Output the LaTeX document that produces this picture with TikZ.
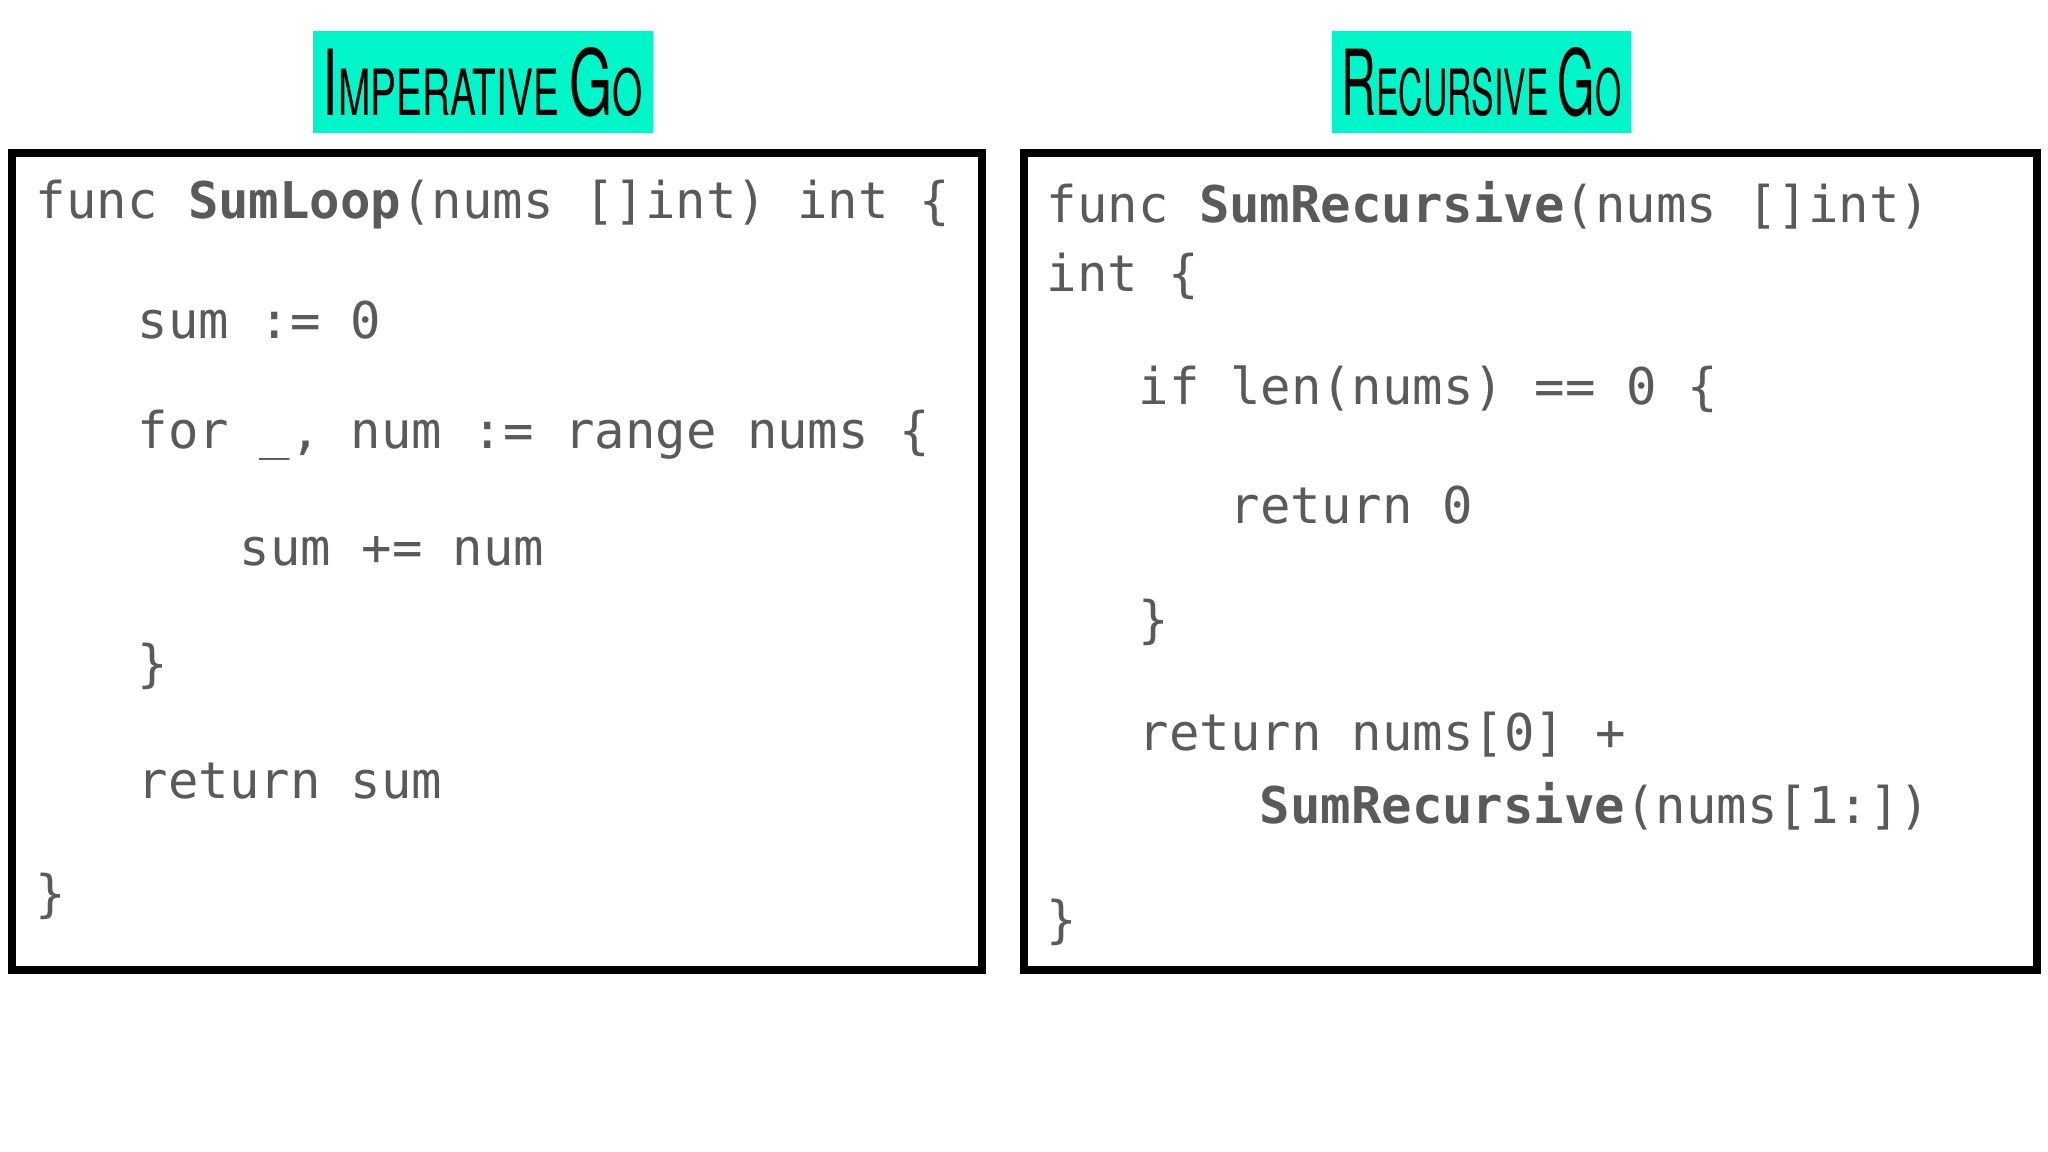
\documentclass[tikz,border=0pt]{standalone}
\usepackage{fontspec}
\setmonofont{DejaVu Sans Mono}
\setsansfont{TeX Gyre Heros}
\definecolor{codegray}{HTML}{5A5A5A}
\definecolor{aqua}{HTML}{00F5C8}
\tikzset{code/.style={anchor=west,inner sep=0pt,font=\ttfamily\fontsize{14.4}{16}\selectfont,text=codegray},
frame/.style={draw=black,line width=2.2pt},
hl/.style={fill=aqua,inner sep=0pt}}
\begin{document}
\begin{tikzpicture}[x=1cm,y=1cm]
\useasboundingbox (0,0) rectangle (20.48,11.52);
\fill[white] (0,0) rectangle (20.48,11.52);
% titles
\fill[aqua] (3.13,10.19) rectangle (6.53,11.21);
\node[inner sep=0pt] (t1) at (4.83,10.70) {\resizebox{3.2cm}{0.68cm}{\sffamily I\scriptsize MPERATIVE \normalsize G\scriptsize O}};
\fill[aqua] (13.32,10.19) rectangle (16.31,11.21);
\node[inner sep=0pt] (t2) at (14.815,10.70) {\resizebox{2.8cm}{0.68cm}{\sffamily R\scriptsize ECURSIVE \normalsize G\scriptsize O}};
% frames
\draw[frame] (0.12,1.82) rectangle (9.82,9.99);
\draw[frame] (10.24,1.82) rectangle (20.37,9.99);
% left code
\node[code] (l1) at (0.35,9.47) {func \textbf{SumLoop}(nums []int) int \{};
\node[code] (l2) at (1.37,8.32) {sum := 0};
\node[code] (l3) at (1.37,7.17) {for \_, num := range nums \{};
\node[code] (l4) at (2.39,6.01) {sum += num};
\node[code] (l5) at (1.37,4.86) {\}};
\node[code] (l6) at (1.37,3.71) {return sum};
\node[code] (l7) at (0.35,2.56) {\}};
% right code
\node[code] (r1) at (10.46,9.47) {func \textbf{SumRecursive}(nums []int)};
\node[code] (r2) at (10.46,8.76) {int \{};
\node[code] (r3) at (11.38,7.63) {if len(nums) == 0 \{};
\node[code] (r4) at (12.29,6.47) {return 0};
\node[code] (r5) at (11.38,5.30) {\}};
\node[code] (r6) at (11.38,4.17) {return nums[0] +};
\node[code] (r7) at (12.59,3.46) {\textbf{SumRecursive}(nums[1:])};
\node[code] (r8) at (10.46,2.30) {\}};
\end{tikzpicture}
\end{document}
